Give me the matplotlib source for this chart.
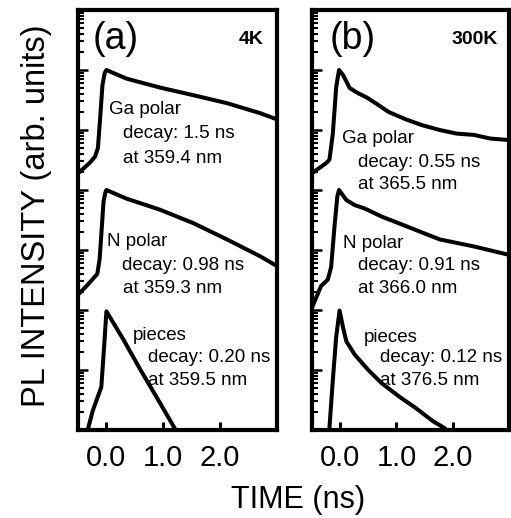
import matplotlib
matplotlib.use("Agg")
import matplotlib.pyplot as plt
from matplotlib.ticker import LogLocator, NullFormatter, FixedLocator

plt.rcParams["font.family"] = ["Liberation Sans", "DejaVu Sans"]

# ---- data (time in ns, PL intensity in arb. units) ----
# panel (a), 4K
t_ga_4k = [-0.5, -0.4, -0.3, -0.2, -0.15, -0.11, -0.07, -0.03, 0.0, 0.1, 0.35, 0.94, 1.53, 2.12, 2.71, 3.0]
i_ga_4k = [1.9e4, 2.3e4, 2.8e4, 3.6e4, 5.0e4, 1.6e5, 5.6e5, 8.9e5, 1.0e6, 9.1e5, 7.2e5, 5.1e5, 3.8e5, 2.8e5, 1.9e5, 1.5e5]

t_n_4k = [-0.5, -0.37, -0.25, -0.16, -0.12, -0.08, -0.05, -0.02, 0.0, 0.35, 0.94, 1.53, 2.12, 2.71, 3.0]
i_n_4k = [1.8e2, 2.4e2, 3.2e2, 4.0e2, 7.0e2, 2.5e3, 6.5e3, 9.0e3, 1.0e4, 7.2e3, 4.7e3, 2.8e3, 1.5e3, 7.8e2, 5.4e2]

t_pc_4k = [-0.33, -0.24, -0.09, -0.04, 0.0, 0.3, 0.6, 0.9, 1.2, 1.3]
i_pc_4k = [1.0, 2.1, 5.2, 2.5e1, 9.5e1, 3.2e1, 1.0e1, 3.3, 1.07, 0.7]

# panel (b), 300K
t_ga_rt = [-0.5, -0.25, -0.19, -0.13, -0.07, -0.02, 0.05, 0.17, 0.32, 0.47, 0.63, 0.86, 1.17, 1.46,
           1.77, 2.07, 2.37, 2.67, 3.0]
i_ga_rt = [1.9e4, 2.8e4, 3.2e4, 8.7e4, 5.2e5, 1.0e6, 8.3e5, 5.0e5, 4.1e5, 3.5e5, 2.8e5, 2.0e5, 1.5e5,
           1.2e5, 1.0e5, 8.7e4, 8.3e4, 7.2e4, 6.8e4]

t_n_rt = [-0.5, -0.34, -0.22, -0.16, -0.1, -0.05, -0.02, 0.11, 0.26, 0.44, 0.74, 1.17, 1.77, 2.37, 3.0]
i_n_rt = [1.1e2, 2.5e2, 3.2e2, 5.2e2, 2.5e3, 7.8e3, 1.0e4, 6.8e3, 5.6e3, 4.9e3, 3.6e3, 2.5e3, 1.5e3,
          1.15e3, 8.3e2]

t_pc_rt = [-0.2, -0.13, -0.07, -0.01, 0.05, 0.11, 0.26, 0.5, 0.74, 1.05, 1.35, 1.65, 1.86, 1.95]
i_pc_rt = [0.8, 6.8, 3.6e1, 9.8e1, 5.2e1, 3.0e1, 1.8e1, 1.0e1, 6.0, 3.6, 2.3, 1.4, 1.07, 0.8]

x_ticks = [0.0, 1.0, 2.0]
x_tick_labels = ["0.0", "1.0", "2.0"]

panels = [
    {
        "tag": "(a)", "temp": "4K", "tag_x": 0.075, "temp_x": 0.935,
        "curves": [(t_ga_4k, i_ga_4k), (t_n_4k, i_n_4k), (t_pc_4k, i_pc_4k)],
        "labels": [
            ("Ga polar", 0.157, 0.752), ("decay: 1.5 ns", 0.226, 0.695), ("at 359.4 nm", 0.226, 0.636),
            ("N polar", 0.144, 0.438), ("decay: 0.98 ns", 0.22, 0.381), ("at 359.3 nm", 0.226, 0.326),
            ("pieces", 0.275, 0.214), ("decay: 0.20 ns", 0.353, 0.162), ("at 359.5 nm", 0.353, 0.107),
        ],
    },
    {
        "tag": "(b)", "temp": "300K", "tag_x": 0.091, "temp_x": 0.944,
        "curves": [(t_ga_rt, i_ga_rt), (t_n_rt, i_n_rt), (t_pc_rt, i_pc_rt)],
        "labels": [
            ("Ga polar", 0.151, 0.683), ("decay: 0.55 ns", 0.235, 0.626), ("at 365.5 nm", 0.235, 0.574),
            ("N polar", 0.159, 0.433), ("decay: 0.91 ns", 0.234, 0.381), ("at 366.0 nm", 0.234, 0.326),
            ("pieces", 0.264, 0.21), ("decay: 0.12 ns", 0.345, 0.162), ("at 376.5 nm", 0.345, 0.107),
        ],
    },
]

W, H = 511, 518
fig = plt.figure(figsize=(W / 100, H / 100), dpi=100)
rects = [(78, 10, 277, 430), (312, 10, 509, 430)]

for (x0, y0, x1, y1), p in zip(rects, panels):
    ax = fig.add_axes([x0 / W, 1 - y1 / H, (x1 - x0) / W, (y1 - y0) / H])
    for t, i in p["curves"]:
        ax.plot(t, i, color="black", lw=2.9, solid_joinstyle="round", solid_capstyle="round")
    ax.set_yscale("log")
    ax.set_ylim(1, 1e7)
    ax.set_xlim(-0.5, 3.0)
    ax.yaxis.set_major_locator(LogLocator(base=10, numticks=20))
    ax.yaxis.set_minor_locator(LogLocator(base=10, subs=range(2, 10), numticks=100))
    ax.yaxis.set_major_formatter(NullFormatter())
    ax.yaxis.set_minor_formatter(NullFormatter())
    ax.xaxis.set_major_locator(FixedLocator(x_ticks))
    ax.set_xticklabels(x_tick_labels)
    ax.tick_params(axis="y", which="major", direction="in", length=7.5, width=1.8, right=False)
    ax.tick_params(axis="y", which="minor", direction="in", length=4.5, width=1.5, right=False)
    ax.tick_params(axis="x", which="major", direction="in", length=6, width=2.2, top=False,
                   labelsize=21, pad=10)
    ax.tick_params(axis="x", which="minor", bottom=False, top=False)
    for s in ax.spines.values():
        s.set_linewidth(3)
    ax.text(p["tag_x"], 0.93, p["tag"], transform=ax.transAxes,
            fontsize=27, va="center", ha="left")
    ax.text(p["temp_x"], 0.93, p["temp"], transform=ax.transAxes,
            fontsize=14, fontweight="bold", va="center", ha="right")
    for s, tx, ty in p["labels"]:
        ax.text(tx, ty, s, transform=ax.transAxes, fontsize=13.5, va="baseline", ha="left")

fig.text(37 / W, 1 - 216 / H, "PL INTENSITY (arb. units)", rotation=90, fontsize=23.5,
         ha="center", va="center")
fig.text(298 / W, 1 - 508 / H, "TIME (ns)", fontsize=22, ha="center", va="baseline")

fig.savefig("out.png", dpi=100)
